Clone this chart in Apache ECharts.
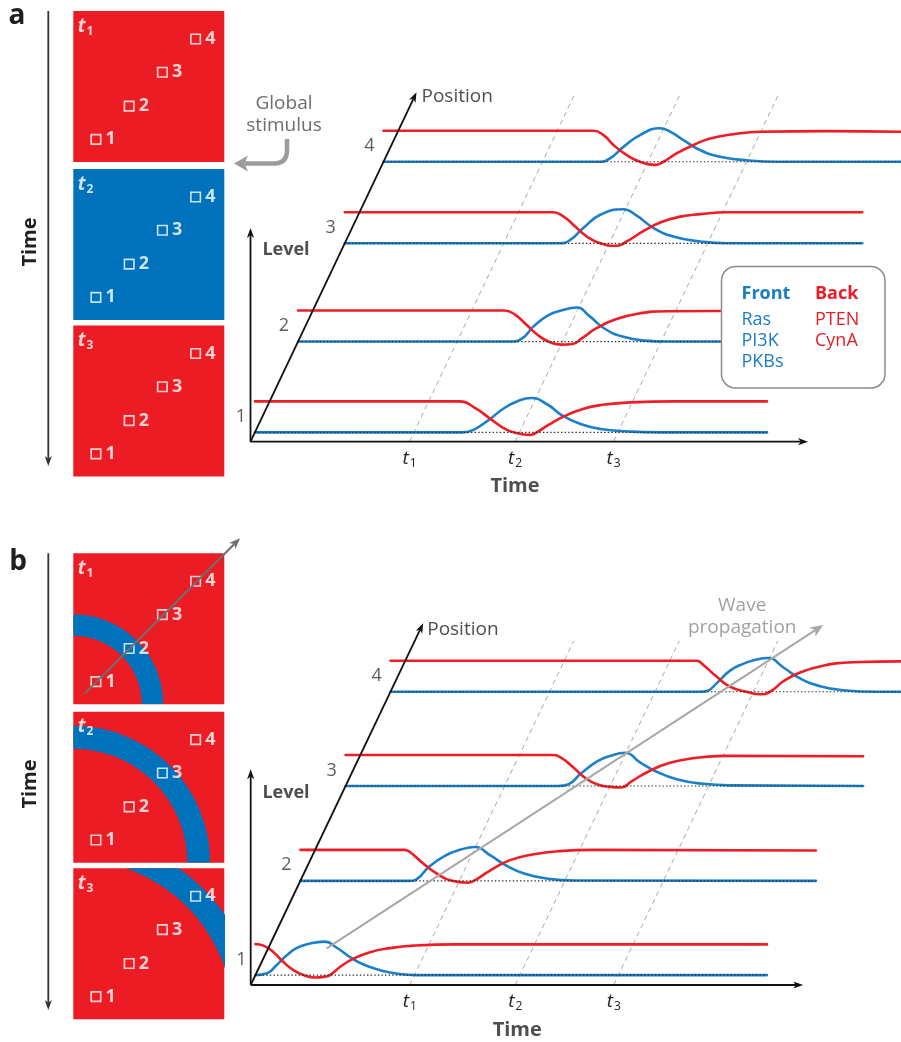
<!DOCTYPE html>
<html><head><meta charset="utf-8">
<script src="https://cdn.jsdelivr.net/npm/echarts@6/dist/echarts.min.js"></script>
<style>html,body{margin:0;padding:0;background:#fff}#c{width:901px;height:1042px}</style>
</head><body><div id="c"></div>
<script>
// ================= DATA =================
// time-axis tick marks t1..t3 (time units)
const tickValues = [31.8, 52.9, 72.6];
const tickSubscripts = ['1', '2', '3'];
const positionLabels = ['1', '2', '3', '4'];

// panel a: offset of each position row (level units / time units)
const posLevelA = [0.30, 3.23, 6.40, 9.03];
const posTimeA  = [0.9, 9.5, 18.85, 26.6];
const positionTipA = [33.2, 11.27];
const timeAxisEndA = 111.5;
const levelAxisTopA = 6.89;

// panel b
const posLevelB = [0.32, 3.36, 6.42, 9.46];
const posTimeB  = [0.95, 9.94, 18.98, 27.97];
const positionTipB = [34.5, 11.67];
const timeAxisEndB = 110.5;
const levelAxisTopB = 6.96;
const waveArrowB = [15.2, 1.18, 114.5, 11.61];

// curves: [local time, level]  (Back = red, Front = blue)
const backA1  = [[0,1],[41,1],[43.9,0.8],[46.9,0.46],[49.8,0.13],[52,-0.01],[55,-0.08],[56.5,0.02],[58.7,0.24],[61.7,0.51],[65.4,0.75],[69.1,0.88],[75,0.97],[83.9,1],[102.4,1]];
const frontA1 = [[0,0],[41.7,0],[43.9,0.1],[46.9,0.42],[49.8,0.78],[52.7,1.02],[55.2,1.11],[58.5,0.9],[61.4,0.55],[65.1,0.27],[69.1,0.11],[74.8,0.03],[80.7,0],[102.4,0]];
const backA2  = [[0,1],[41.2,1],[43.4,0.87],[45.7,0.54],[47.9,0.22],[50.1,0],[52.7,-0.1],[54.9,-0.08],[56.8,0.11],[59.7,0.43],[63.4,0.71],[67.9,0.9],[73.8,0.98],[103,1]];
const frontA2 = [[0,0],[42.7,0],[44.9,0.11],[47.1,0.49],[50.1,0.85],[52.6,1.0],[55.7,1.1],[58.3,0.82],[61.2,0.43],[64.9,0.16],[69.4,0.03],[73.8,0],[103,0]];
const backA3  = [[0,1],[41.7,1],[43.7,0.87],[45.7,0.6],[48.4,0.22],[51.1,0],[54.4,-0.08],[56.4,0.06],[59.7,0.39],[63.1,0.67],[67.1,0.86],[71.1,0.94],[76.4,1],[103.5,1]];
const frontA3 = [[0,0],[43.1,0],[45.1,0.11],[47.7,0.49],[51.1,0.92],[55.7,1.1],[58.4,0.89],[61.7,0.5],[65.7,0.22],[71.1,0.06],[76.4,0],[103.5,0]];
const backA4  = [[0,1],[42,1],[44,0.86],[46,0.54],[48.6,0.22],[51.3,0],[54.3,-0.1],[56,0],[58.6,0.27],[62,0.54],[65.3,0.75],[70,0.89],[75.3,0.97],[88.6,0.99],[103.5,0.97]];
const frontA4 = [[0,0],[43.3,0],[45.3,0.11],[48,0.48],[51.3,0.86],[55.3,1.08],[57.3,0.97],[60,0.7],[63.3,0.38],[67.3,0.16],[72.6,0.05],[78.6,0],[103.5,0]];

const backB1  = [[0,1],[1.6,0.95],[3.6,0.74],[5.6,0.42],[7.6,0.16],[9.6,0],[11.9,-0.08],[13.9,-0.05],[14.9,0],[16.9,0.26],[19.6,0.53],[22.9,0.74],[26.9,0.87],[31.6,0.95],[40,0.99],[102.3,0.99]];
const frontB1 = [[0,0],[2.2,0.05],[4.2,0.32],[6.2,0.63],[8.2,0.87],[10.9,1.02],[13.9,1.08],[16.2,0.89],[18.9,0.58],[21.6,0.34],[24.9,0.16],[28.2,0.05],[32.2,0],[102.3,0]];
const backB2  = [[0,1],[20.8,1],[21.9,0.93],[24.2,0.61],[27.3,0.23],[30.3,0],[33.4,-0.06],[34.9,0.02],[38,0.34],[41.8,0.66],[46.4,0.85],[51.8,0.96],[58.7,1],[103.1,0.98]];
const frontB2 = [[0,0],[21.9,0],[23.4,0.07],[25.7,0.45],[28.8,0.8],[31.9,1.0],[34.9,1.09],[38,0.82],[41.1,0.5],[44.9,0.23],[49.5,0.07],[54.9,0.01],[103.1,0]];
const backB3  = [[0,1],[41.2,1],[42.9,0.93],[45.4,0.62],[47.9,0.26],[50.4,0.05],[53,-0.03],[55.1,-0.05],[57.2,0.15],[60.5,0.46],[64.7,0.74],[69.8,0.9],[75.7,0.97],[103.5,0.96]];
const frontB3 = [[0,0],[42.5,0],[44.5,0.05],[47.1,0.41],[50.4,0.8],[52.9,0.97],[55.9,1.07],[58.8,0.77],[62.2,0.46],[66.4,0.21],[71.5,0.07],[77.4,0.02],[103.5,0]];
const backB4  = [[0,1],[61.2,1],[62.5,0.87],[65.2,0.49],[67.9,0.16],[71.2,0],[73.9,-0.08],[75.9,0],[78.5,0.33],[81.9,0.62],[86.5,0.84],[92.5,0.95],[103,0.98]];
const frontB4 = [[0,0],[62,0],[63.2,0.02],[65.2,0.27],[67.9,0.68],[70.5,0.9],[73,1.03],[75.5,1.09],[78.5,0.79],[81.9,0.43],[85.9,0.18],[90.5,0.05],[97.2,0],[103,0]];

// squares: marker positions (fraction of square) and ring radii (panel b)
const markerX = [0.15, 0.37, 0.59, 0.81];
const markerY = [0.15, 0.37, 0.594, 0.815];
const squareTimes = ['1', '2', '3'];
const squareColorsA = ['red', 'blue', 'red'];
const ringInner = [0.454, 0.755, 1.06];
const ringOuter = [0.596, 0.907, 1.22];
const sq1ArrowB = [0.077, 0.073, 1.104, 1.099];

const frontNames = ['Ras', 'PI3K', 'PKBs'];
const backNames = ['PTEN', 'CynA'];

// ================= STYLE / LAYOUT =================
const FONT = '"Open Sans", "Noto Sans", sans-serif';
const RED = '#ec1c24', BLUE = '#0072bc';
const RED_LINE = '#ee1d25', BLUE_LINE = '#1b80c7';
const BLUE_TEXT = '#1b7cc3', RED_TEXT = '#ec1c24';
const X_PX = 5, Y_PX = 31;

const panels = [
  { origin: [250.5, 441.7], xMax: 130, yMax: 11.6, timeEnd: timeAxisEndA, levelTop: levelAxisTopA,
    posTip: positionTipA, posLevel: posLevelA, posTime: posTimeA,
    back: [backA1, backA2, backA3, backA4], front: [frontA1, frontA2, frontA3, frontA4],
    dashTop: 11.18, timeName: [52.9, -1.45], levelName: [7.1, 6.18], positionName: [34.2, 11.13] },
  { origin: [250.7, 985], xMax: 130, yMax: 12.2, timeEnd: timeAxisEndB, levelTop: levelAxisTopB,
    posTip: positionTipB, posLevel: posLevelB, posTime: posTimeB,
    back: [backB1, backB2, backB3, backB4], front: [frontB1, frontB2, frontB3, frontB4],
    dashTop: 11.1, timeName: [53.3, -1.45], levelName: [7.06, 6.19], positionName: [35.3, 11.45] }
];
const squareTopsA = [11, 169, 325.5];
const squareTopsB = [553.3, 711.7, 868.3];
const SQ_LEFT = 73.3, SQ = 151;

function arrowShapes(p0, p1, color, lw, head, hw) {
  const dx = p1[0] - p0[0], dy = p1[1] - p0[1];
  const len = Math.hypot(dx, dy), ux = dx / len, uy = dy / len, nx = -uy, ny = ux;
  const bx = p1[0] - ux * head, by = p1[1] - uy * head;
  const notch = head * 0.72;
  return [
    { type: 'line', shape: { x1: p0[0], y1: p0[1], x2: p1[0] - ux * notch, y2: p1[1] - uy * notch },
      style: { stroke: color, lineWidth: lw } },
    { type: 'polygon', shape: { points: [p1, [bx + nx * hw, by + ny * hw], [p1[0] - ux * notch, p1[1] - uy * notch], [bx - nx * hw, by - ny * hw]] },
      style: { fill: color } }
  ];
}
function arrowSeries(gridIdx, data, color, lw, head, hw, z) {
  return {
    type: 'custom', xAxisIndex: gridIdx, yAxisIndex: gridIdx, clip: false, silent: true, z: z,
    data: data, encode: { x: [0, 2], y: [1, 3] },
    renderItem: function (params, api) {
      const p0 = api.coord([api.value(0), api.value(1)]);
      const p1 = api.coord([api.value(2), api.value(3)]);
      return { type: 'group', children: arrowShapes(p0, p1, color, lw, head, hw) };
    }
  };
}
function textPoint(gridIdx, pos, text, extra) {
  return {
    type: 'scatter', xAxisIndex: gridIdx, yAxisIndex: gridIdx, symbolSize: 0, silent: true, clip: false, z: 8,
    data: [{ value: pos }],
    label: Object.assign({ show: true, position: [0, 0], formatter: text, fontFamily: FONT, fontSize: 19,
      color: '#222', align: 'center', verticalAlign: 'middle' }, extra || {})
  };
}

const grids = [], xAxes = [], yAxes = [], series = [];

// ---- chart panels ----
panels.forEach(function (P, g) {
  grids.push({ left: P.origin[0], top: P.origin[1] - P.yMax * Y_PX, width: P.xMax * X_PX, height: P.yMax * Y_PX,
    show: false, containLabel: false, outerBoundsMode: 'none' });
  xAxes.push({ gridIndex: g, type: 'value', min: 0, max: P.xMax,
    axisLine: { show: false }, axisTick: { show: false }, splitLine: { show: false },
    axisLabel: { show: true, customValues: tickValues, margin: 6, interval: 0,
      formatter: function (v) {
        let i = 0, best = 1e9;
        tickValues.forEach(function (t, k) { if (Math.abs(t - v) < best) { best = Math.abs(t - v); i = k; } });
        return '{t|t}{s|' + tickSubscripts[i] + '}';
      },
      rich: { t: { fontFamily: FONT, fontStyle: 'italic', fontSize: 19, color: '#222' },
              s: { fontFamily: FONT, fontSize: 12, color: '#222', padding: [10, 0, 0, 1] } } } });
  yAxes.push({ gridIndex: g, type: 'value', min: 0, max: P.yMax, show: false });

  const skew = P.posTip[0] / P.posTip[1];
  // dashed time guides, parallel to the position axis
  tickValues.forEach(function (t) {
    series.push({ type: 'line', xAxisIndex: g, yAxisIndex: g, silent: true, symbol: 'none', z: 1, clip: false,
      lineStyle: { color: '#a9a9a9', width: 1, type: [5, 4] },
      data: [[t, 0], [t + skew * P.dashTop, P.dashTop]] });
  });
  for (let k = 0; k < 4; k++) {
    const dt = P.posTime[k], dl = P.posLevel[k];
    const fr = P.front[k], bk = P.back[k];
    const end = fr[fr.length - 1][0];
    series.push({ type: 'line', xAxisIndex: g, yAxisIndex: g, silent: true, symbol: 'none', z: 2,
      smooth: 0.5,
      lineStyle: { color: BLUE_LINE, width: 2.6, join: 'round', cap: 'round' },
      data: fr.map(function (p) { return [p[0] + dt, p[1] + dl]; }) });
    series.push({ type: 'line', xAxisIndex: g, yAxisIndex: g, silent: true, symbol: 'none', z: 3,
      smooth: 0.5,
      lineStyle: { color: RED_LINE, width: 2.6, join: 'round', cap: 'round' },
      data: bk.map(function (p) { return [p[0] + dt, p[1] + dl]; }) });
    series.push({ type: 'line', xAxisIndex: g, yAxisIndex: g, silent: true, symbol: 'none', z: 4,
      lineStyle: { color: '#2a2a2a', width: 1.2, type: [1.4, 2.2] },
      data: [[dt, dl], [dt + end, dl]] });
    series.push(textPoint(g, [dt - 2.8, dl + 0.5], positionLabels[k], { fontSize: 18, color: '#333' }));
  }
  // axes: time, level, position
  series.push(arrowSeries(g, [[0, 0, P.timeEnd, 0], [0, 0, 0, P.levelTop], [0, 0, P.posTip[0], P.posTip[1]]],
    '#111', 1.8, 10, 3.6, 6));
  series.push(textPoint(g, P.timeName, 'Time', { fontWeight: 'bold', fontSize: 20, color: '#222' }));
  series.push(textPoint(g, P.levelName, 'Level', { fontWeight: 'bold', fontSize: 18, color: '#222' }));
  series.push(textPoint(g, P.positionName, 'Position', { align: 'left', fontSize: 19, color: '#222' }));
  if (g === 1) {
    series.push(arrowSeries(g, [waveArrowB], '#a8a8a8', 2, 13, 5.5, 6));
    series.push(textPoint(g, [98.3, 11.9], 'Wave\npropagation', { fontSize: 19, color: '#8a8a8a', lineHeight: 22 }));
  }
});

// ---- squares ----
function addSquare(top, color, tIdx, ringIdx, withArrow) {
  const g = grids.length;
  grids.push({ left: SQ_LEFT, top: top, width: SQ, height: SQ, show: true, backgroundColor: color, borderWidth: 0,
    containLabel: false, outerBoundsMode: 'none' });
  xAxes.push({ gridIndex: g, type: 'value', min: 0, max: 1, show: false });
  yAxes.push({ gridIndex: g, type: 'value', min: 0, max: 1, show: false });
  if (ringIdx !== null) {
    series.push({ type: 'custom', xAxisIndex: g, yAxisIndex: g, clip: true, silent: true, z: 2,
      data: [[ringInner[ringIdx], ringOuter[ringIdx]]],
      renderItem: function (params, api) {
        const c = api.coord([0, 0]);
        const r0 = api.size([api.value(0), 0])[0];
        const r = api.size([api.value(1), 0])[0];
        return { type: 'sector', shape: { cx: c[0], cy: c[1], r0: r0, r: r, startAngle: -Math.PI / 2, endAngle: 0, clockwise: true },
          style: { fill: BLUE } };
      } });
  }
  series.push({ type: 'scatter', xAxisIndex: g, yAxisIndex: g, silent: true, z: 4, symbol: 'rect', symbolSize: 9.5,
    itemStyle: { color: 'rgba(0,0,0,0)', borderColor: '#fff', borderWidth: 1.6 },
    label: { show: true, position: 'right', distance: 4, color: '#fff', fontFamily: FONT, fontWeight: 'bold', fontSize: 18,
      formatter: function (p) { return positionLabels[p.dataIndex]; } },
    data: markerX.map(function (x, i) { return [x, markerY[i]]; }) });
  series.push({ type: 'scatter', xAxisIndex: g, yAxisIndex: g, silent: true, z: 4, symbolSize: 0,
    data: [[0.03, 0.9]],
    label: { show: true, position: [0, 0], align: 'left', verticalAlign: 'middle',
      formatter: '{t|t}{s|' + squareTimes[tIdx] + '}',
      rich: { t: { fontFamily: FONT, fontStyle: 'italic', fontWeight: 'bold', fontSize: 19, color: '#fff' },
              s: { fontFamily: FONT, fontWeight: 'bold', fontSize: 12, color: '#fff', padding: [10, 0, 0, 1] } } } });
  if (withArrow) series.push(arrowSeries(g, [sq1ArrowB], '#6e6e6e', 2, 11, 4.5, 6));
}
squareTopsA.forEach(function (t, i) { addSquare(t, squareColorsA[i] === 'red' ? RED : BLUE, i, null, false); });
squareTopsB.forEach(function (t, i) { addSquare(t, RED, i, i, i === 0); });

// ---- annotations ----
function gArrow(x0, y0, x1, y1, color, lw, head, hw) {
  return arrowShapes([x0, y0], [x1, y1], color, lw, head, hw).map(function (e) { e.z = 50; return e; });
}
const graphic = [].concat(
  [{ type: 'text', x: 17, y: 16, z: 50, style: { text: 'a', font: 'bold 28px ' + FONT, fill: '#231f20', align: 'center', verticalAlign: 'middle' } },
   { type: 'text', x: 18, y: 562, z: 50, style: { text: 'b', font: 'bold 28px ' + FONT, fill: '#231f20', align: 'center', verticalAlign: 'middle' } },
   { type: 'text', x: 30, y: 242, rotation: Math.PI / 2, z: 50, style: { text: 'Time', font: 'bold 20px ' + FONT, fill: '#231f20', align: 'center', verticalAlign: 'middle' } },
   { type: 'text', x: 30, y: 784, rotation: Math.PI / 2, z: 50, style: { text: 'Time', font: 'bold 20px ' + FONT, fill: '#231f20', align: 'center', verticalAlign: 'middle' } },
   { type: 'text', x: 284, y: 104, z: 50, style: { text: 'Global', font: '19px ' + FONT, fill: '#6d6d6d', align: 'center', verticalAlign: 'middle' } },
   { type: 'text', x: 284, y: 126, z: 50, style: { text: 'stimulus', font: '19px ' + FONT, fill: '#6d6d6d', align: 'center', verticalAlign: 'middle' } },
   { type: 'line', z: 50, shape: { x1: 287, y1: 139, x2: 287, y2: 150 }, style: { stroke: '#9b9b9b', lineWidth: 4.5 } },
   { type: 'bezierCurve', z: 50, shape: { x1: 287, y1: 150, cpx1: 287, cpy1: 163.5, x2: 274, y2: 163.5 }, style: { stroke: '#9b9b9b', lineWidth: 4.5, fill: null } },
   { type: 'line', z: 50, shape: { x1: 274, y1: 163.5, x2: 245, y2: 163.5 }, style: { stroke: '#9b9b9b', lineWidth: 4.5 } },
   { type: 'polygon', z: 50, shape: { points: [[234, 163.5], [248, 155.5], [244.5, 163.5], [248, 171.5]] }, style: { fill: '#9b9b9b' } }
  ],
  gArrow(48.3, 11, 48.3, 466, '#333', 1.8, 10, 3.6),
  gArrow(48.3, 553.3, 48.3, 1010, '#333', 1.8, 10, 3.6),
  [{ type: 'rect', z: 100, shape: { x: 721.5, y: 266.5, width: 163.5, height: 121.5, r: 14 }, style: { fill: '#fff', stroke: '#8c8c8c', lineWidth: 1.5 } },
   { type: 'text', z: 101, x: 741.5, y: 293.5, style: { text: 'Front', font: 'bold 18px ' + FONT, fill: BLUE_TEXT, verticalAlign: 'middle' } },
   { type: 'text', z: 101, x: 815, y: 293.5, style: { text: 'Back', font: 'bold 18px ' + FONT, fill: RED_TEXT, verticalAlign: 'middle' } }
  ],
  frontNames.map(function (n, i) { return { type: 'text', z: 101, x: 741.5, y: 319.5 + i * 21.2, style: { text: n, font: '18px ' + FONT, fill: BLUE_TEXT, verticalAlign: 'middle' } }; }),
  backNames.map(function (n, i) { return { type: 'text', z: 101, x: 815, y: 319.5 + i * 21.2, style: { text: n, font: '18px ' + FONT, fill: RED_TEXT, verticalAlign: 'middle' } }; })
);

const chart = echarts.init(document.getElementById('c'), null, { renderer: 'canvas', width: 901, height: 1042 });
chart.setOption({
  backgroundColor: '#fff',
  animation: false,
  grid: grids, xAxis: xAxes, yAxis: yAxes, series: series, graphic: graphic
});
</script></body></html>
